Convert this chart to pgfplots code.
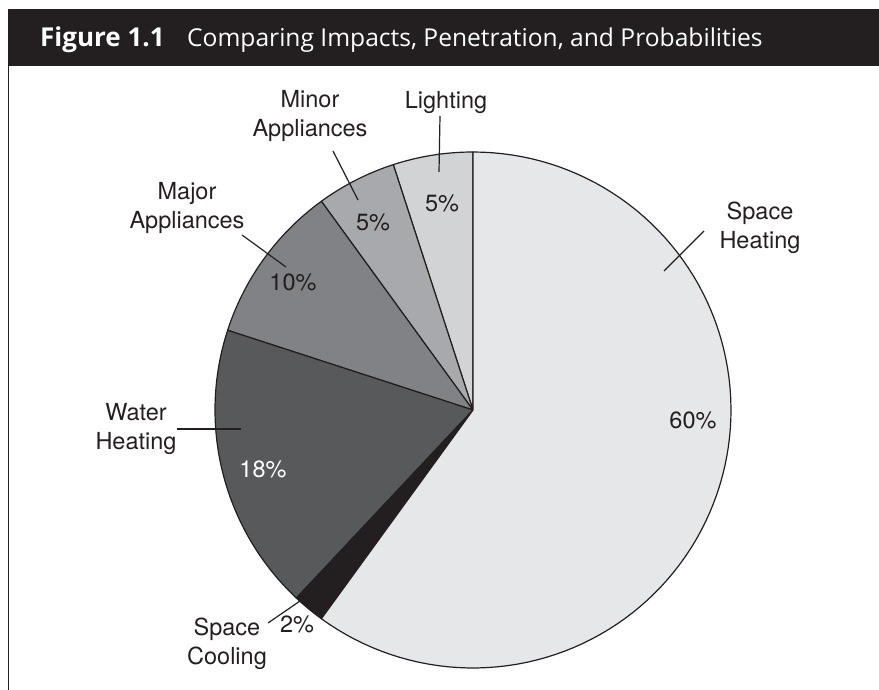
\documentclass[border=0pt]{standalone}
\usepackage{fontspec}
\setmainfont{TeX Gyre Heros}
\newfontfamily\titlefont{Open Sans}
\usepackage{pgfplots}
\pgfplotsset{compat=1.18}
\definecolor{hdr}{HTML}{231F20}
\definecolor{cHeat}{HTML}{E6E7E8}
\definecolor{cLight}{HTML}{D1D3D4}
\definecolor{cMinor}{HTML}{A7A9AC}
\definecolor{cMajor}{HTML}{808285}
\definecolor{cWater}{HTML}{58595B}
\definecolor{cCool}{HTML}{231F20}
\tikzset{lbl/.style={font=\fontsize{23.5}{29}\selectfont, inner sep=0pt, text=hdr, align=center}}
% slice: {cumulative start %}{share %}{colour}
\newcommand{\slice}[3]{%
  \pgfmathsetmacro\sa{90+3.6*#1}%
  \pgfmathsetmacro\sb{90+3.6*(#1+#2)}%
  \edef\temp{\noexpand\addplot[draw=hdr, line width=1.2pt, line join=round, fill=#3, domain=\sa:\sb, samples=100]
    ({473+258*cos(x)},{410-258*sin(x)}) -- (axis cs:473,410) -- cycle;}%
  \temp}
\begin{document}
\begin{tikzpicture}
\useasboundingbox (0,0) rectangle (879pt,690pt);
\begin{axis}[
  scale only axis, width=879pt, height=690pt,
  xmin=0, xmax=879, ymin=0, ymax=690, y dir=reverse,
  hide axis, clip=false,
]
% header and frame
\fill[hdr] (axis cs:8,9) rectangle (axis cs:879,66);
\draw[hdr, line width=1.5pt] (axis cs:8.5,66) -- (axis cs:8.5,690);
\node[anchor=base west, inner sep=0pt, text=white, font=\titlefont\fontsize{26}{30}\selectfont\bfseries] at (axis cs:40,47) {Figure 1.1};
\node[anchor=base west, inner sep=0pt, text=white, font=\titlefont\fontsize{24.6}{29}\selectfont] at (axis cs:187,47) {Comparing Impacts, Penetration, and Probabilities};
% pie (percent shares): Lighting 5, Minor 5, Major 10, Water 18, Cooling 2, Space Heating 60
\slice{0}{5}{cLight}
\slice{5}{5}{cMinor}
\slice{10}{10}{cMajor}
\slice{20}{18}{cWater}
\slice{38}{2}{cCool}
\slice{40}{60}{cHeat}
% leader lines
\draw[hdr, line width=1.2pt] (axis cs:664,271) -- (axis cs:704,231);
\draw[hdr, line width=1.2pt] (axis cs:177,429) -- (axis cs:241,429);
\draw[hdr, line width=1.2pt] (axis cs:242,235) -- (axis cs:286,267);
\draw[hdr, line width=1.2pt] (axis cs:333,151) -- (axis cs:358,200);
\draw[hdr, line width=1.2pt] (axis cs:440,116) -- (axis cs:439,172);
\draw[hdr, line width=1.2pt] (axis cs:268,623) -- (axis cs:300,601);
% labels
\node[lbl] at (axis cs:760,228) {Space\\Heating};
\node[lbl] at (axis cs:693,420) {60\%};
\node[lbl] at (axis cs:136,429) {Water\\Heating};
\node[lbl, text=white] at (axis cs:263,469) {18\%};
\node[lbl] at (axis cs:187,208) {Major\\Appliances};
\node[lbl] at (axis cs:293,282) {10\%};
\node[lbl] at (axis cs:310,116) {Minor\\Appliances};
\node[lbl] at (axis cs:373,222) {5\%};
\node[lbl] at (axis cs:446,102) {Lighting};
\node[lbl] at (axis cs:442,203) {5\%};
\node[lbl] at (axis cs:227,644) {Space\\Cooling};
\node[lbl] at (axis cs:297,624) {2\%};
\end{axis}
\end{tikzpicture}
\end{document}
